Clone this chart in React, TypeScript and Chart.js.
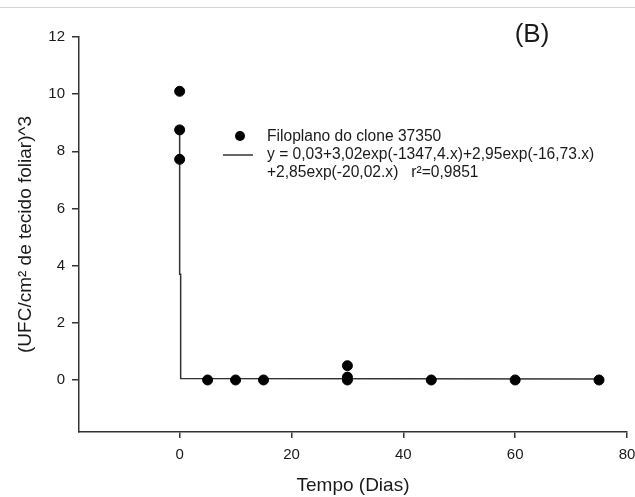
import React, { useEffect, useRef } from "react";
import { Chart, registerables } from "chart.js";

Chart.register(...registerables);

// Observed data (Filoplano do clone 37350)
const obsX = [0, 0, 0, 5, 10, 15, 30, 30, 30, 45, 60, 75];
const obsY = [10.1, 8.75, 7.72, 0, 0, 0, 0, 0.1, 0.5, 0, 0, 0];

// Fitted curve
const fitX = [0, 0, 0.18, 0.18, 75];
const fitY = [8.8, 3.7, 3.7, 0.05, 0.03];

const xTicks = [0, 20, 40, 60, 80];
const yTicks = [0, 2, 4, 6, 8, 10, 12];
const xRange = [-18, 80];
const yRange = [-1.82, 12];

const seriesLabel = "Filoplano do clone 37350";
const fitLabel = [
  "y = 0,03+3,02exp(-1347,4.x)+2,95exp(-16,73.x)",
  "+2,85exp(-20,02.x)   r²=0,9851",
];
const panelLabel = "(B)";
const xTitle = "Tempo (Dias)";
const yTitle = "(UFC/cm² de tecido foliar)^3";

const FONT = "'Liberation Sans', Arial, sans-serif";
const INK = "#1a1a1a";
const AXIS = "#333333";

const overlayPlugin = {
  id: "overlay",
  afterDraw(chart: any) {
    const ctx = chart.ctx as CanvasRenderingContext2D;
    ctx.save();
    // top separator line
    ctx.strokeStyle = "#d4d4d4";
    ctx.lineWidth = 1;
    ctx.beginPath();
    ctx.moveTo(0, 7.5);
    ctx.lineTo(chart.width, 7.5);
    ctx.stroke();

    // panel label
    ctx.fillStyle = INK;
    ctx.font = `26px ${FONT}`;
    ctx.textAlign = "center";
    ctx.textBaseline = "middle";
    ctx.fillText(panelLabel, 532, 35);

    // legend
    ctx.fillStyle = "#000";
    ctx.beginPath();
    ctx.arc(240, 136, 5, 0, Math.PI * 2);
    ctx.fill();
    ctx.strokeStyle = AXIS;
    ctx.lineWidth = 1.5;
    ctx.beginPath();
    ctx.moveTo(223, 155);
    ctx.lineTo(253, 155);
    ctx.stroke();

    ctx.fillStyle = INK;
    ctx.font = `15.6px ${FONT}`;
    ctx.textAlign = "left";
    ctx.textBaseline = "middle";
    ctx.fillText(seriesLabel, 267, 137);
    ctx.fillText(fitLabel[0], 267, 155);
    ctx.fillText(fitLabel[1], 267, 173);
    ctx.restore();
  },
};

export default function App() {
  const ref = useRef<HTMLCanvasElement | null>(null);

  useEffect(() => {
    if (!ref.current) return;
    const chart = new Chart(ref.current, {
      type: "scatter",
      data: {
        datasets: [
          {
            type: "line",
            label: "fit",
            data: fitX.map((x, i) => ({ x, y: fitY[i] })),
            borderColor: AXIS,
            borderWidth: 1.5,
            pointRadius: 0,
            fill: false,
            tension: 0,
            order: 2,
          } as any,
          {
            label: seriesLabel,
            data: obsX.map((x, i) => ({ x, y: obsY[i] })),
            backgroundColor: "#000",
            borderColor: "#000",
            pointRadius: 5,
            pointHoverRadius: 5,
            order: 1,
          },
        ],
      },
      options: {
        responsive: false,
        animation: false,
        events: [],
        layout: { padding: { top: 37, right: 8, left: 0, bottom: 0 } },
        plugins: {
          legend: { display: false },
          tooltip: { enabled: false },
          title: { display: false },
        },
        scales: {
          x: {
            type: "linear",
            min: xRange[0],
            max: xRange[1],
            afterBuildTicks: (s: any) => {
              s.ticks = xTicks.map((v) => ({ value: v }));
            },
            afterFit: (s: any) => {
              s.height = 65;
              s.paddingLeft = 0;
              s.paddingRight = 0;
            },
            grid: {
              drawOnChartArea: false,
              drawTicks: true,
              tickLength: 6,
              color: AXIS,
              lineWidth: 1.5,
            },
            border: { display: true, color: AXIS, width: 1.5 },
            ticks: {
              color: INK,
              font: { family: FONT, size: 15 },
              padding: 8,
              maxRotation: 0,
            },
            title: {
              display: true,
              text: xTitle,
              color: INK,
              font: { family: FONT, size: 19 },
              padding: { top: 0, bottom: 0 },
            },
          },
          y: {
            type: "linear",
            min: yRange[0],
            max: yRange[1],
            afterBuildTicks: (s: any) => {
              s.ticks = yTicks.map((v) => ({ value: v }));
            },
            afterFit: (s: any) => {
              s.width = 79;
            },
            grid: {
              drawOnChartArea: false,
              drawTicks: true,
              tickLength: 7,
              color: AXIS,
              lineWidth: 1.5,
            },
            border: { display: true, color: AXIS, width: 1.5 },
            ticks: {
              color: INK,
              font: { family: FONT, size: 15 },
              padding: 7,
            },
            title: {
              display: true,
              text: yTitle,
              color: INK,
              font: { family: FONT, size: 19 },
              padding: { top: 14, bottom: 0 },
            },
          },
        },
      },
      plugins: [overlayPlugin],
    });
    return () => chart.destroy();
  }, []);

  return (
    <div style={{ position: "fixed", left: 0, top: 0, width: 635, height: 497, background: "#fff" }}>
      <canvas ref={ref} width={635} height={497} style={{ display: "block" }} />
    </div>
  );
}
